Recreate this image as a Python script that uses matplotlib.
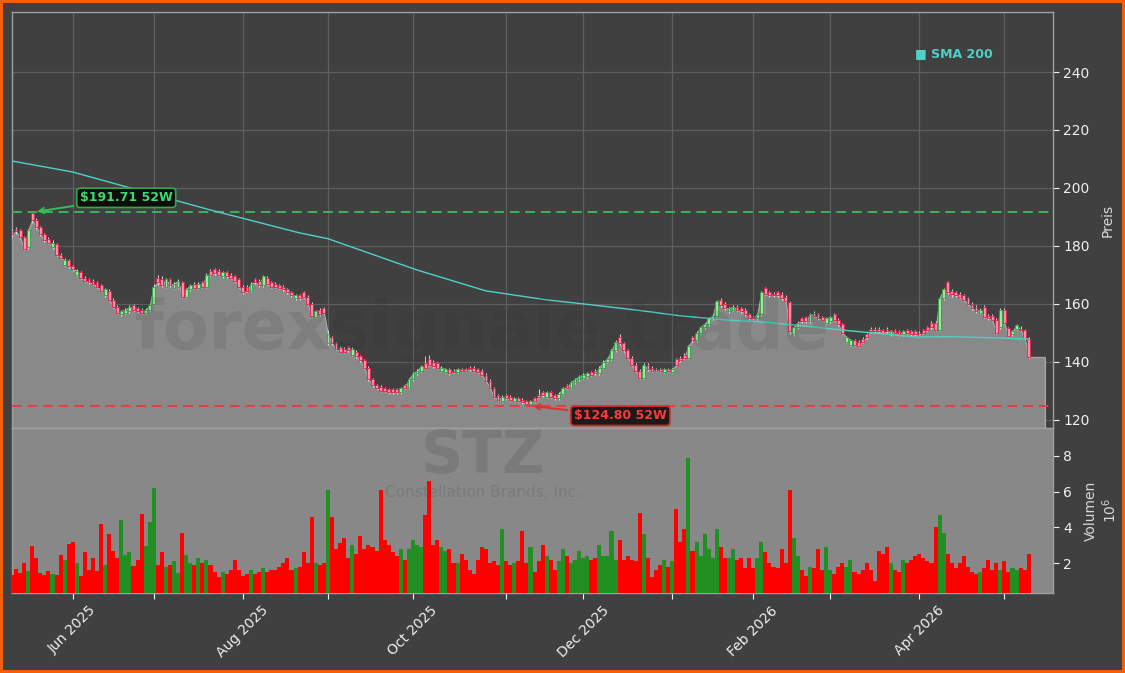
import numpy as np
import pandas as pd
import matplotlib
matplotlib.use('Agg')
import matplotlib.pyplot as plt

ticker = 'STZ'
company = 'Constellation Brands, Inc.'
watermark = 'forexsignale.trade'

holidays = ['2025-05-26', '2025-06-19', '2025-07-04', '2025-09-01', '2025-11-27',
            '2025-12-25', '2026-01-01', '2026-01-19', '2026-02-16', '2026-04-03']

# daily candles, 2025-05-09 .. 2026-05-11 (trading days)
opens = [185, 186, 185.5, 183, 179.5, 191.4, 189, 186.5, 184, 182.5,
         179.5, 180.5, 177, 173.5, 175, 173, 170, 171, 169, 168.5,
         168, 167.5, 166.5, 163, 164.5, 161.5, 159, 156.5, 157, 157.5,
         159.5, 158.5, 158, 157, 158, 160, 169, 168.5, 166, 168.5,
         165.5, 166, 167.5, 162.5, 165, 167, 165.5, 167.5, 166, 171.5,
         172, 171.5, 169.5, 171, 170, 169.5, 168.5, 166, 166, 164.5,
         168.5, 168, 166.5, 169, 167.5, 167, 166.5, 166, 165, 164,
         162, 163, 164, 162.5, 160, 155.5, 158, 158.5, 146.5, 148.5,
         146.5, 145, 144.5, 145, 142.5, 143.5, 142, 140.5, 138, 134,
         132, 131.5, 131, 130.5, 130.5, 130.5, 129.5, 132, 131, 134,
         136, 137, 139.5, 141, 140, 139.5, 137, 136.5, 137.5, 137,
         136.5, 137.5, 137.5, 138, 138, 137.5, 137, 135.5, 133.5, 131,
         128.5, 126.5, 128.5, 128, 126.5, 127.5, 127, 126.5, 125.5, 127.5,
         128.5, 129.5, 128, 129.5, 128.5, 127.5, 129, 132, 131, 133,
         134, 134.5, 135, 136.5, 137, 136, 138, 140, 141, 144,
         148.5, 146.5, 144, 141.5, 139, 137, 134.5, 139, 138, 137.5,
         137.5, 136.5, 137.5, 136.5, 141, 141.5, 142.5, 141.5, 148.5, 147.5,
         150, 152, 153, 155, 156, 161.5, 160, 157.5, 158, 159,
         158.5, 158, 156.5, 155.5, 155, 156.5, 165.5, 164, 163.5, 164,
         163.5, 162.5, 160.5, 149.5, 152, 155, 155.5, 154, 157, 156.5,
         155.5, 153.5, 154, 156.5, 154.5, 153, 147, 146, 147.5, 147,
         148, 149.5, 151.5, 151.5, 151.5, 151, 151.5, 149.5, 151, 150.5,
         149.5, 151, 150.5, 150.5, 150, 151, 152, 153.5, 153.5, 151,
         162, 167.5, 164.5, 164, 163.5, 163, 162, 160, 159, 157,
         159, 156, 156, 154.5, 152, 158, 151.7, 149.5, 151.5, 151.5,
         151, 148]

highs = [186, 186.5, 186, 183.5, 186, 191.71, 189.5, 187, 184.5, 183,
         182, 181, 177.5, 176, 175.5, 173.5, 172, 171.5, 169.5, 169,
         168.5, 168, 167, 165.5, 165, 162, 159.5, 158, 158.5, 159.5,
         160, 159, 158.5, 158.5, 160, 167, 170, 169.5, 169, 169,
         167.5, 168.5, 168, 165.5, 167, 167.5, 167.5, 168, 170.5, 172,
         172.5, 172, 171.5, 171.5, 170.5, 170, 169, 166.5, 166.5, 167.5,
         169, 168.5, 170, 169.5, 168, 167.5, 167, 166.5, 165.5, 164.5,
         163.5, 163.5, 164.5, 163, 160.5, 158, 158.5, 159, 151, 149,
         147, 145.5, 145, 145.5, 145, 144, 142.5, 141, 138.5, 134.5,
         132.5, 132, 131.5, 131, 131, 131, 131.5, 132.5, 134.5, 136.5,
         137.5, 139, 142, 142.5, 140.5, 140, 138.5, 138, 138, 137.5,
         138, 138, 138, 138.5, 138.5, 138, 137.5, 136, 134, 131.5,
         129, 128.5, 129, 128.5, 128, 128, 127.5, 127, 127, 128,
         130.5, 130, 130, 130, 129, 129.5, 131.5, 132.5, 133.5, 134.5,
         135.5, 136, 136.5, 137, 137.5, 138.5, 140.5, 141.5, 144.5, 147.5,
         149.5, 147, 144.5, 142, 139.5, 137.5, 139.5, 139.5, 138.5, 138,
         138, 138, 138, 138, 141.5, 142, 143, 146, 149, 150.5,
         152.5, 153.5, 155.5, 156.5, 161.5, 162, 160.5, 159, 159.5, 159.5,
         159, 158.5, 157, 156, 157, 164.5, 166, 164.5, 164, 164.5,
         164, 163, 161, 152.5, 154, 155.5, 156, 157, 157.5, 157,
         156, 155.5, 156, 157, 155, 153.5, 149, 148, 148, 147.5,
         148.5, 150, 152, 152, 152, 151.5, 152, 151, 151.5, 151,
         151, 151.5, 151, 151, 150.5, 151.5, 152.5, 154, 154, 162.5,
         165.5, 168, 165, 164.5, 164, 163.5, 162.5, 160.5, 159.5, 158.5,
         159.5, 156.5, 156.5, 155, 158.5, 158.5, 152, 151, 153, 152.5,
         151.5, 148.5]

lows = [183, 184, 182.5, 178.5, 179, 188, 186, 183.5, 181.5, 180.5,
        179, 176.5, 175.5, 173, 172.5, 171.5, 169.5, 168.5, 167.5, 167,
        166.5, 165.5, 164, 162.5, 161, 158.5, 156.5, 156, 156.5, 157,
        157.5, 157, 156.5, 156.5, 157.5, 159.5, 166.5, 166, 165.5, 166,
        165, 165.5, 162, 162, 164.5, 165, 165, 165.5, 165.5, 169.5,
        170, 169.5, 169, 169, 168.5, 167.5, 165.5, 163.5, 164, 164,
        167, 166, 166, 166.5, 165.5, 165.5, 165, 164.5, 163.5, 162.5,
        161.5, 161.5, 162, 159.5, 155.5, 155, 156, 156.5, 146, 146,
        144, 143, 143, 143.5, 142, 141.5, 140, 137.5, 133.5, 131.5,
        130.5, 129.5, 129.5, 129, 129, 129, 129, 130.5, 130.5, 133.5,
        135.5, 136.5, 137.5, 138.5, 138, 137.5, 136.5, 136, 135.5, 136,
        136, 136.5, 136.5, 137, 136.5, 136, 135, 133, 130.5, 127.5,
        126.5, 126, 127, 126.5, 126, 126, 125.5, 124.8, 125, 126,
        127.5, 128, 127.5, 127.5, 127, 127, 128.5, 130.5, 130.5, 132.5,
        133.5, 134, 134.5, 135, 135.5, 135.5, 137.5, 139.5, 140.5, 143.5,
        146, 143.5, 141, 138.5, 136.5, 134, 134, 137, 136.5, 136.5,
        136.5, 136, 136.5, 136, 138.5, 140, 141, 141, 147, 147,
        149.5, 151.5, 152.5, 154.5, 155.5, 159, 158, 157, 157.5, 157.5,
        157, 156, 154.5, 154.5, 154.5, 156, 163, 162.5, 162.5, 162.5,
        161.5, 160.5, 149.5, 149, 151.5, 153.5, 153.5, 153.5, 155.5, 154.5,
        154, 153, 153.5, 154, 152.5, 149.5, 146.5, 145.5, 145.5, 145,
        146.5, 148, 150, 150, 150, 149.5, 150, 149, 149.5, 149,
        149, 149.5, 149, 149, 148.5, 149.5, 150.5, 151.5, 150.5, 150.5,
        161.5, 163.5, 162.5, 162.5, 162, 161, 159.5, 158, 157, 156.5,
        155, 154.5, 154, 149.5, 151.5, 153, 148.5, 149, 151, 150.5,
        148, 141.5]

closes = [184, 185, 183, 179, 185.5, 189, 186.5, 184, 182, 181,
          181, 177, 176, 175, 173, 172, 171.5, 169, 168, 167.5,
          167, 166, 164.5, 165, 161.5, 159, 157, 157.5, 158, 159,
          158, 157.5, 157, 158, 159.5, 166, 167.5, 166.5, 168.5, 166.5,
          167, 168, 162.5, 165, 166.5, 165.5, 167, 166, 170, 170,
          170.5, 170, 171, 169.5, 169, 168, 166, 164, 164.5, 167,
          167.5, 166.5, 169.5, 167, 166, 166, 165.5, 165, 164, 163,
          163, 162, 162.5, 160, 156, 157.5, 156.5, 157, 149.5, 146.5,
          144.5, 143.5, 143.5, 144, 144.5, 142, 140.5, 138, 134, 132,
          131, 130, 130, 129.5, 129.5, 129.5, 131, 131, 134, 136,
          137, 138.5, 138, 139, 138.5, 138, 138, 137.5, 136, 136.5,
          137.5, 137, 137, 137.5, 137, 136.5, 135.5, 133.5, 131, 128,
          127, 128, 127.5, 127, 127.5, 126.5, 126, 125.5, 126.5, 126.5,
          128, 128.5, 129.5, 128, 127.5, 129, 131, 131, 133, 134,
          135, 135.5, 136, 135.5, 136, 138, 140, 141, 144, 147,
          146.5, 144, 141.5, 139, 137, 134.5, 139, 137.5, 137, 137,
          137, 137.5, 137, 137.5, 139, 140.5, 141.5, 145.5, 147.5, 150,
          152, 153, 155, 156, 161, 159.5, 158.5, 158.5, 159, 158,
          157.5, 156.5, 155, 155, 156.5, 164, 163.5, 163, 163, 163,
          162, 161, 150.5, 152, 153.5, 154, 154, 156.5, 156, 155,
          154.5, 155, 155.5, 154.5, 153, 150, 148.5, 147.5, 146, 145.5,
          147, 148.5, 150.5, 150.5, 150.5, 150, 150.5, 150.5, 150, 149.5,
          150.5, 150, 149.5, 149.5, 149, 150, 151, 152, 151, 162,
          165, 164, 163.5, 163, 162.5, 161.5, 160, 158.5, 157.5, 158,
          155.5, 155, 154.5, 150, 158, 153.4, 148.8, 150.5, 152.7, 151,
          148.3, 141.7]

# volume in millions of shares
volumes = [1.33, 1.67, 1.44, 2.0, 1.55, 2.94, 2.28, 1.44, 1.33, 1.55,
           1.39, 1.33, 2.44, 2.17, 3.05, 3.17, 2.0, 1.28, 2.61, 1.61,
           2.28, 1.55, 4.17, 1.89, 3.6, 2.67, 2.28, 4.39, 2.44, 2.61,
           1.83, 2.17, 4.72, 2.94, 4.28, 6.22, 1.89, 2.61, 1.78, 1.89,
           2.1, 1.44, 3.7, 2.44, 2.0, 1.9, 2.3, 2.0, 2.2, 1.9,
           1.5, 1.2, 1.5, 1.4, 1.6, 2.2, 1.6, 1.3, 1.4, 1.6,
           1.4, 1.5, 1.7, 1.5, 1.6, 1.6, 1.8, 2.0, 2.3, 1.6,
           1.7, 1.8, 2.6, 2.0, 4.6, 2.0, 1.9, 2.0, 6.1, 4.6,
           2.8, 3.1, 3.4, 2.3, 3.0, 2.5, 3.5, 2.8, 3.0, 2.9,
           2.7, 6.1, 3.3, 3.0, 2.6, 2.4, 2.8, 2.2, 2.8, 3.3,
           3.0, 2.9, 4.7, 6.6, 3.0, 3.3, 2.9, 2.7, 2.8, 2.0,
           2.0, 2.5, 2.2, 1.6, 1.4, 2.2, 2.9, 2.8, 2.0, 2.1,
           1.9, 3.9, 2.1, 1.9, 2.0, 2.1, 3.8, 2.0, 2.9, 1.5,
           2.1, 3.0, 2.4, 2.2, 1.6, 2.1, 2.8, 2.4, 2.0, 2.2,
           2.7, 2.3, 2.4, 2.2, 2.3, 3.0, 2.4, 2.4, 3.8, 2.2,
           3.3, 2.2, 2.4, 2.2, 2.1, 4.8, 3.6, 2.3, 1.2, 1.6,
           1.9, 2.2, 1.8, 2.1, 5.0, 3.2, 3.9, 7.9, 2.7, 3.2,
           2.4, 3.6, 2.8, 2.3, 3.9, 2.9, 2.3, 2.3, 2.8, 2.2,
           2.3, 1.7, 2.3, 1.7, 2.3, 3.2, 2.6, 2.0, 1.8, 1.7,
           2.8, 2.0, 6.1, 3.4, 2.4, 1.6, 1.3, 1.8, 1.7, 2.8,
           1.6, 2.9, 1.6, 1.4, 1.8, 2.0, 1.8, 2.2, 1.5, 1.4,
           1.6, 2.0, 1.6, 1.0, 2.7, 2.5, 2.9, 2.0, 1.6, 1.5,
           2.2, 2.0, 2.2, 2.4, 2.5, 2.3, 2.1, 2.0, 4.0, 4.7,
           3.7, 2.5, 2.0, 1.7, 2.0, 2.4, 1.8, 1.5, 1.4, 1.5,
           1.7, 2.2, 1.6, 2.0, 1.6, 2.1, 1.5, 1.7, 1.6, 1.7,
           1.6, 2.5]

# 200-day SMA, read at a set of trading-day positions
sma_idx = [0, 15, 30, 49, 71, 78, 100, 117, 132, 143, 154, 165, 176, 187, 207, 215, 223, 232, 240, 251]
sma_vals = [209.3, 205.5, 199.7, 192.4, 184.5, 182.5, 171.7, 164.5, 161.4, 159.7, 157.9, 155.9, 154.5, 153.6,
            150.7, 149.7, 148.6, 148.7, 148.4, 147.9]

high_52w = 191.71
low_52w = 124.80
high_idx = 5
low_idx = 128

bg = '#404040'
up_face, up_edge = '#9be89b', '#2e9e4a'
dn_face, dn_edge = '#ff8fa8', '#e0204a'

n = len(closes)
dates = pd.bdate_range('2025-05-09', periods=n, freq='C', holidays=holidays)
x = np.arange(n)
o = np.array(opens, dtype=float)
c = np.array(closes, dtype=float)
up = c >= o

fig = plt.figure(figsize=(11.25, 6.73), dpi=100, facecolor=bg)
fig.patch.set_edgecolor('#f2600c')
fig.patch.set_linewidth(4)
ax = fig.add_axes([12/1125, 245/673, 1041/1125, 416/673], facecolor=bg)
axv = fig.add_axes([12/1125, 80/673, 1041/1125, 165/673], facecolor='#888888', sharex=ax)

ybot = 117.2
ax.set_ylim(ybot, 260.7)
ax.set_xlim(0, n + 5)

# gray area under the price, held flat a few days past the last close
xf = np.append(x, n + 3)
yf = np.append(c, c[-1])
ax.fill_between(xf, yf, ybot, facecolor='#898989', edgecolor='#a8a8a8', linewidth=0.9, zorder=2)

ax.plot(sma_idx, sma_vals, color='#4fd1c5', lw=1.0, zorder=5)

ax.vlines(x, lows, highs, color='#dcdcdc', lw=0.7, zorder=3)
body_lo = np.minimum(o, c)
body_h = np.maximum(np.abs(c - o), 0.3)
ax.bar(x, body_h, bottom=body_lo, width=0.7,
       color=np.where(up, up_face, dn_face), edgecolor=np.where(up, up_edge, dn_edge),
       linewidth=0.6, zorder=4)

ax.axhline(high_52w, color='#3cb35a', ls='--', lw=1.4, dashes=(5, 3), zorder=3)
ax.axhline(low_52w, color='#e04040', ls='--', lw=1.4, dashes=(5, 3), zorder=3)

ax.annotate(f'${high_52w:.2f} 52W', xy=(high_idx + 0.5, high_52w), xytext=(28.2, 196.6),
            color='#3ddc70', fontsize=9, fontweight='bold', ha='center', va='center',
            bbox=dict(boxstyle='round,pad=0.25', fc='#0d0d0d', ec='#2fa84f', lw=1.2),
            arrowprops=dict(arrowstyle='->', color='#2fc25a', lw=1.4), zorder=8)
ax.annotate(f'${low_52w:.2f} 52W', xy=(low_idx, low_52w), xytext=(150.2, 121.4),
            color='#ff3838', fontsize=9, fontweight='bold', ha='center', va='center',
            bbox=dict(boxstyle='round,pad=0.25', fc='#1a1a1a', ec='#d02828', lw=1.2),
            arrowprops=dict(arrowstyle='->', color='#e03030', lw=1.4), zorder=8)

ax.text(0.867, 0.899, '■ SMA 200', transform=ax.transAxes, color='#4fd1c5',
        fontsize=9, fontweight='bold', va='center', ha='left')

axv.bar(x, volumes, width=1.0, color=np.where(up, '#218f21', '#ff0000'), zorder=3)
axv.set_ylim(0.33, 9.55)

# month ticks, labels every second month
firsts = [i for i in range(1, n) if dates[i].month != dates[i - 1].month]
labels = [dates[i].strftime('%b %Y') if dates[i].month % 2 == 0 else '' for i in firsts]
axv.set_xticks(firsts)
axv.set_xticklabels(labels, rotation=45, color='#e6e6e6', fontsize=10)
plt.setp(ax.get_xticklabels(), visible=False)

for a in (ax, axv):
    a.yaxis.tick_right()
    a.yaxis.set_label_position('right')
    for s in a.spines.values():
        s.set_color('#a0a0a0')
        s.set_linewidth(1.0)
    a.tick_params(axis='y', colors='#f0f0f0', labelsize=10, length=4)
ax.tick_params(axis='x', length=0)
axv.tick_params(axis='x', colors='#f0f0f0', length=4)

ax.set_yticks(range(120, 241, 20))
axv.set_yticks([2, 4, 6, 8])
ax.grid(True, color='#5e5e5e', lw=0.9)
ax.set_axisbelow(True)
ax.set_ylabel('Preis', color='#d8d8d8', fontsize=10, labelpad=8)
axv.set_ylabel('Volumen\n$10^6$', color='#d8d8d8', fontsize=10, labelpad=8)

fig.text(0.429, 0.51, watermark, fontsize=48, fontweight='bold', color='#2a2a2a',
         alpha=0.11, ha='center', va='center', zorder=10)
fig.text(0.429, 0.322, ticker, fontsize=42, fontweight='bold', color='#2a2a2a',
         alpha=0.14, ha='center', va='center', zorder=10)
fig.text(0.429, 0.268, company, fontsize=11, color='#2a2a2a',
         alpha=0.14, ha='center', va='center', zorder=10)

fig.savefig('out.png', dpi=100, facecolor=fig.get_facecolor(), edgecolor=fig.get_edgecolor())
